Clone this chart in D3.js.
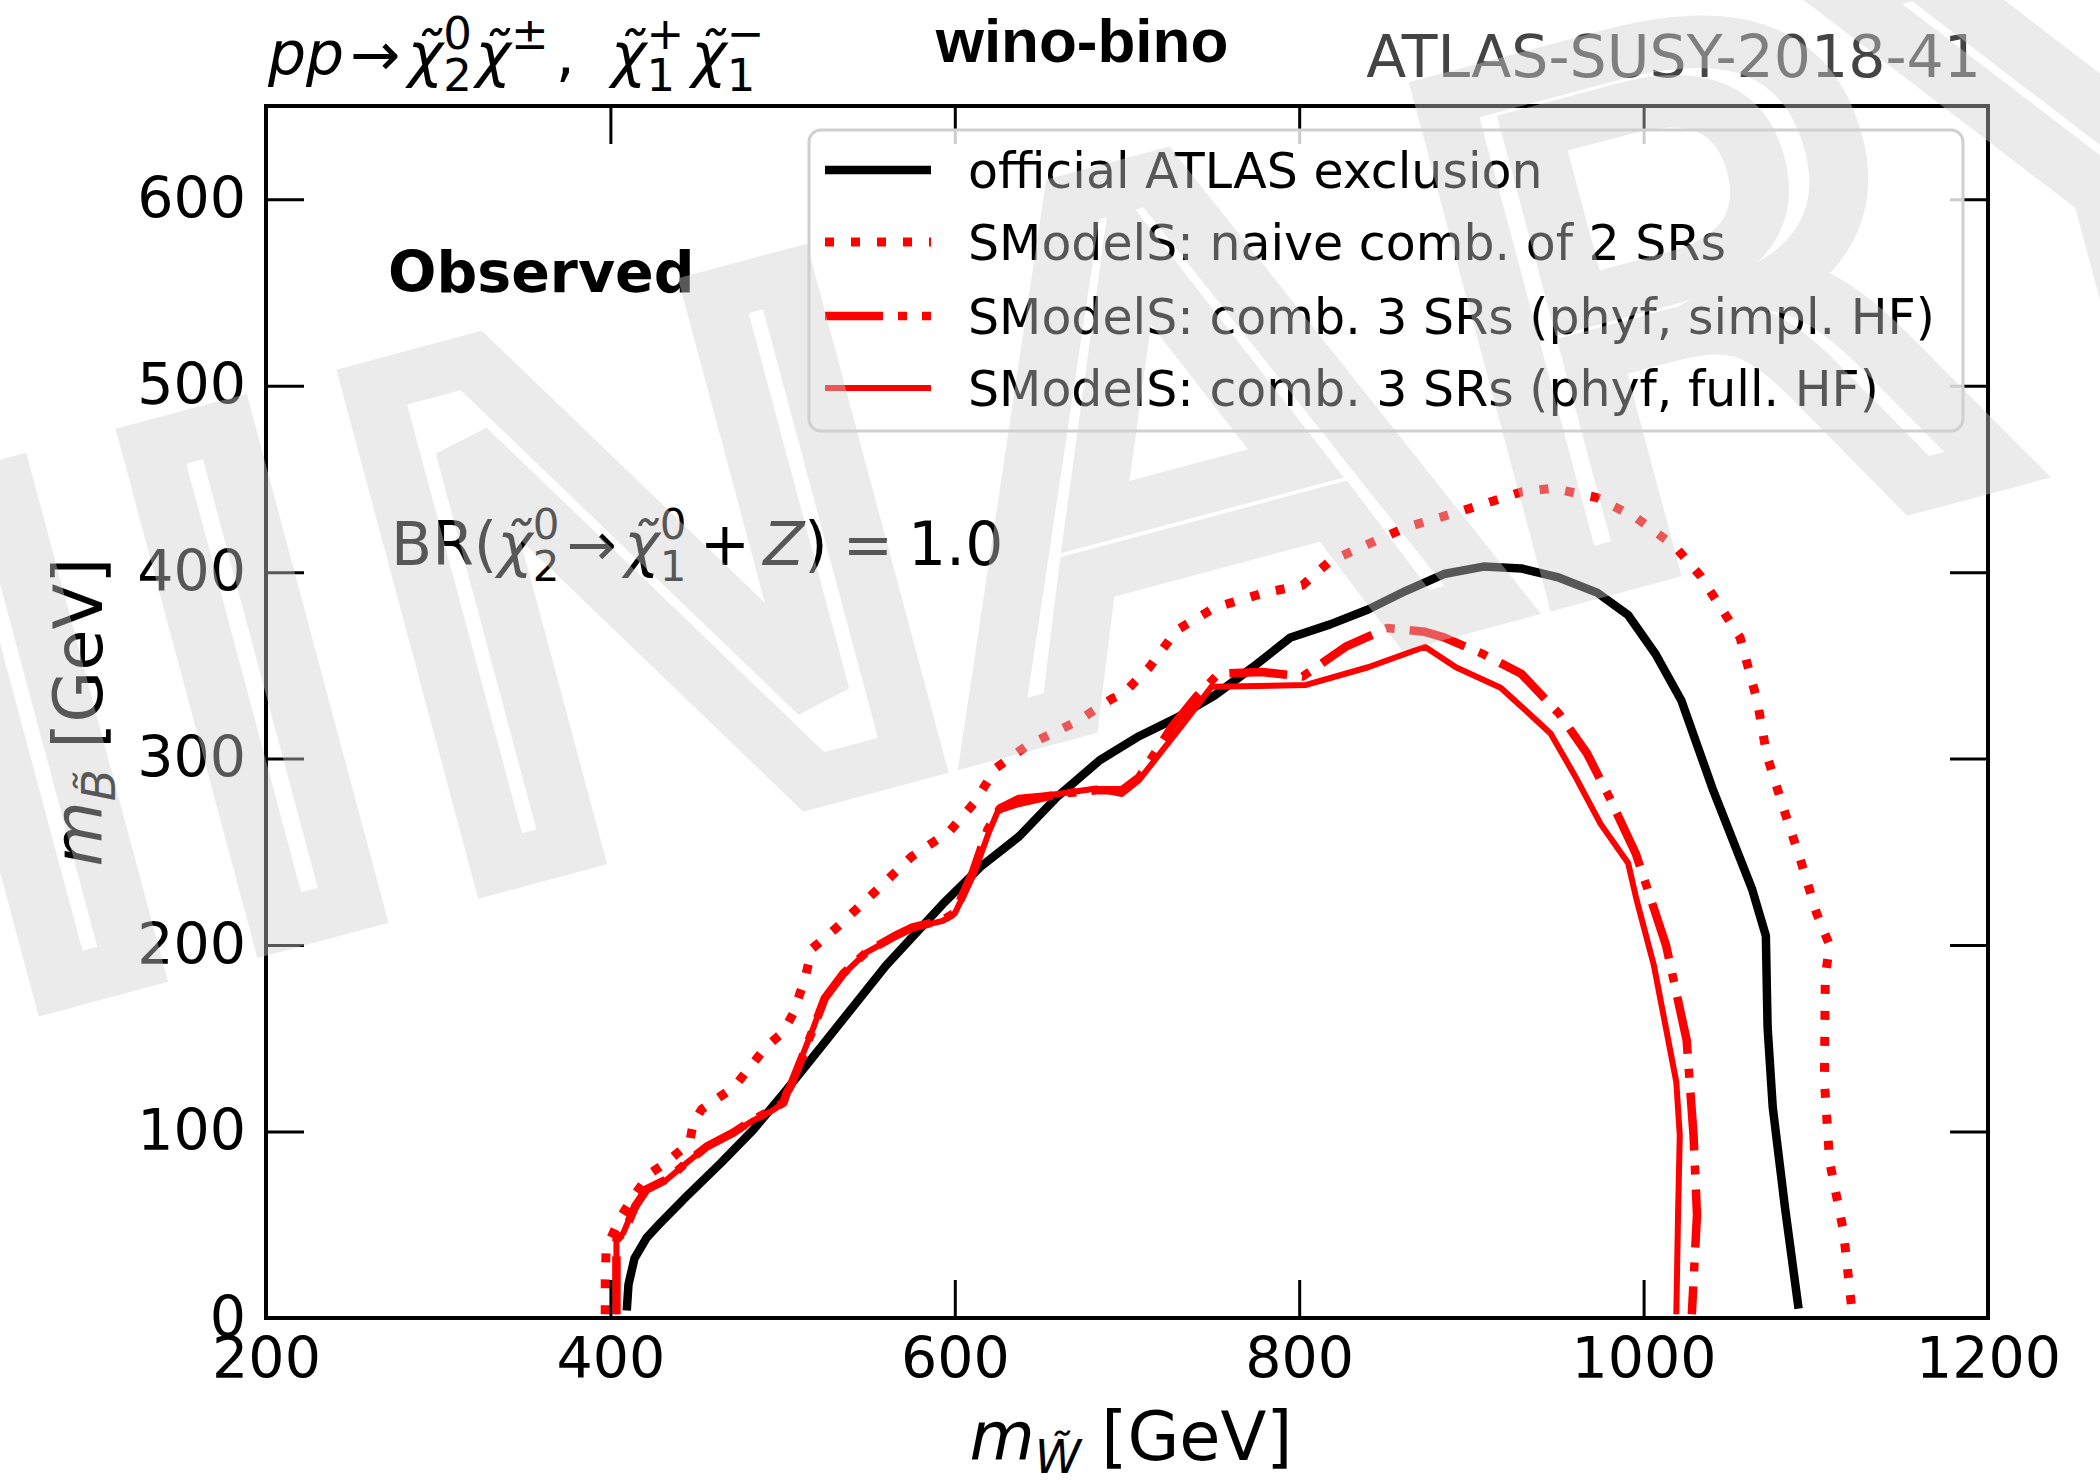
<!DOCTYPE html>
<html>
<head>
<meta charset="utf-8">
<script src="https://cdn.jsdelivr.net/npm/d3@7"></script>
<style>
  body { margin: 0; background: #fff; }
  svg { display: block; font-family: "DejaVu Sans", sans-serif; }
</style>
</head>
<body>
<svg id="chart" width="2100" height="1484"></svg>
<script>
const xTicks = [200, 400, 600, 800, 1000, 1200];
const yTicks = [0, 100, 200, 300, 400, 500, 600];

// exclusion contours, [m_W, m_B] in GeV
const atlasObs = [[409.5,4],[410.5,18],[414,32],[421,43],[429,51],[444,65],[464,83],[483,101],[502,122],[522,145],[541,167],[560,189],[593,222],[615,242],[637,258],[660,280],[684,299],[707,312],[729,322],[751,334],[773,349],[795,365],[818,372],[840,380],[862,390],[884,399],[907,403],[929,402],[951,397],[973,389],[991,377],[1007,356],[1022,331],[1040,284],[1063,230],[1071,205],[1072,156],[1075,113],[1082,60],[1090,5]];
const naive2SR = [[397,2],[397,20],[397.5,37],[405.5,53.5],[414,66],[423,77.5],[432,83],[446,94],[448,104],[453,112],[472,124],[484,138],[491,146],[500,153],[506,163],[513,182],[517,198],[531,209],[553,228],[575,247.5],[597,261],[611,276],[624,295],[642,307],[671,320],[691,332],[698,335],[713,349],[729,369],[751,381],[780,389],[802,393],[818,406],[840,415],[862,424],[895,433],[929,443],[947,445],[973,440],[996,429],[1018,414],[1033,398],[1056,365],[1066,331],[1071.5,302],[1081,274],[1091,246],[1100.5,217],[1108,200],[1105.5,183],[1105,127],[1108,84],[1116,47],[1121,4]];
const comb3Simpl = [[403.5,2],[403.5,42],[408,46],[414.5,60],[421,69],[433,74.5],[444.5,83.5],[456,92],[471.5,99.5],[483,106.5],[494.5,112],[500.5,115.5],[502.5,121],[504.5,124],[512.5,142.5],[518.5,157],[524.5,171.5],[535.5,185],[549,196.5],[566.5,205.5],[575.5,209.5],[593,213.5],[600,217.5],[610.5,239],[619,262],[626,273],[636,276],[660,281],[682,283],[697,283],[707,290],[726,317],[740,333],[753,345.5],[778,346.5],[802,344],[827,360],[851,370],[873,368],[884,365],[907,356],[929,345.5],[951,324],[967,303],[980,279.5],[995.5,249],[1013,200],[1025,149],[1029,98],[1031,55.5],[1028,2]];
const comb3Full = [[403.5,2],[403.5,42],[407.5,45.5],[414,60],[421,68.5],[432.5,74],[444,83],[456,92],[471,99],[483,106],[494.5,111.5],[500,115],[502.5,120.5],[504,123],[512,142],[518,156],[524,171],[535,184],[548.5,196],[566,205],[575,209],[593,213],[600,217],[611,238],[620,261],[626,274],[637,279],[660,281],[682,284],[697,281],[707,288.5],[733,319],[749,338.5],[804,339.5],[840,349],[873,360],[891,349],[917,338],[929,328],[946,313.5],[960,291],[975,265],[991,244],[996,224],[1006,189],[1019,126.5],[1021,98],[1020,55.5],[1019,2]];

const legendLabels = [
  "official ATLAS exclusion",
  "SModelS: naive comb. of 2 SRs",
  "SModelS: comb. 3 SRs (phyf, simpl. HF)",
  "SModelS: comb. 3 SRs (phyf, full. HF)"
];

const svg = d3.select("#chart");
const margin = { left: 266, right: 112, top: 106, bottom: 166 };
const width = 2100 - margin.left - margin.right;
const height = 1484 - margin.top - margin.bottom;

const x = d3.scaleLinear().domain([200, 1200]).range([0, width]);
const y = d3.scaleLinear().domain([0, 650]).range([height, 0]);

const plot = svg.append("g").attr("transform", `translate(${margin.left},${margin.top})`);

plot.append("clipPath").attr("id", "clip")
  .append("rect").attr("width", width).attr("height", height);

// curves
const series = [
  { data: atlasObs, color: "#000", w: 8.5, dash: null },
  { data: naive2SR, color: "#ff0000", w: 9, dash: "9,17" },
  { data: comb3Simpl, color: "#ff0000", w: 8.5, dash: "58,15,9,15" },
  { data: comb3Full, color: "#ff0000", w: 6, dash: null }
];
const line = d3.line().x(d => x(d[0])).y(d => y(d[1]));
const curves = plot.append("g").attr("clip-path", "url(#clip)");
series.forEach(s => {
  curves.append("path")
    .datum(s.data)
    .attr("d", line)
    .attr("fill", "none")
    .attr("stroke", s.color)
    .attr("stroke-width", s.w)
    .attr("stroke-linejoin", "round")
    .attr("stroke-dasharray", s.dash);
});

// axes, ticks pointing inwards on all four sides
function styleAxis(g) {
  g.select(".domain").remove();
  g.selectAll(".tick line").attr("stroke", "#000").attr("stroke-width", 3);
  g.attr("font-size", 57).attr("font-family", "DejaVu Sans").selectAll("text").attr("fill", "#000");
}
plot.append("g").attr("transform", `translate(0,${height})`)
  .call(d3.axisBottom(x).tickValues(xTicks).tickSize(-38).tickPadding(20).tickFormat(d3.format("d")))
  .call(styleAxis);
plot.append("g")
  .call(d3.axisTop(x).tickValues(xTicks).tickSize(-38).tickFormat(""))
  .call(styleAxis);
plot.append("g")
  .call(d3.axisLeft(y).tickValues(yTicks).tickSize(-38).tickPadding(20).tickFormat(d3.format("d")))
  .call(styleAxis);
plot.append("g").attr("transform", `translate(${width},0)`)
  .call(d3.axisRight(y).tickValues(yTicks).tickSize(-38).tickFormat(""))
  .call(styleAxis);

plot.append("rect")
  .attr("width", width).attr("height", height)
  .attr("fill", "none").attr("stroke", "#000").attr("stroke-width", 4);

// small mathtext-like helper: base text with stacked super/subscripts
function mathText(parent, parts, size, subDy = 0.26, scr = 0.7) {
  const g = parent.append("g");
  let cx = 0;
  parts.forEach(p => {
    cx += (p.pl || 0) * size;
    const base = g.append("text").attr("x", cx).attr("y", 0)
      .attr("font-size", size).attr("font-style", p.it ? "italic" : null).text(p.s);
    cx += base.node().getComputedTextLength();
    let w = 0;
    if (p.sup) {
      const t = g.append("text").attr("x", cx).attr("y", -0.44 * size)
        .attr("font-size", size * scr).attr("font-style", p.supIt ? "italic" : null).text(p.sup);
      w = Math.max(w, t.node().getComputedTextLength());
    }
    if (p.sub) {
      const t = g.append("text").attr("x", cx).attr("y", subDy * size)
        .attr("font-size", size * scr).attr("font-style", p.subIt ? "italic" : null).text(p.sub);
      w = Math.max(w, t.node().getComputedTextLength());
    }
    cx += w + (p.pr || 0) * size;
  });
  return { g, width: cx };
}

const chi = "\u03c7\u0303";

// header
const title = mathText(svg, [
  { s: "pp", it: true },
  { s: "\u2192", pl: 0.1, pr: 0.12 },
  { s: chi, it: true, sup: "0", sub: "2", pr: 0.06 },
  { s: chi, it: true, sup: "\u00b1", pr: 0.12 },
  { s: ",", pr: 0.6 },
  { s: chi, it: true, sup: "+", sub: "1", pr: 0.12 },
  { s: chi, it: true, sup: "\u2212", sub: "1" }
], 60, 0.26, 0.75);
title.g.attr("transform", "translate(268,75)");

svg.append("text")
  .attr("x", 1082).attr("y", 62)
  .attr("text-anchor", "middle")
  .attr("font-family", "Liberation Sans, Arial, sans-serif")
  .attr("font-weight", "bold")
  .attr("font-size", 62)
  .text("wino-bino");

svg.append("text")
  .attr("x", 1981).attr("y", 77)
  .attr("text-anchor", "end")
  .attr("font-size", 58.5)
  .attr("fill", "#444")
  .text("ATLAS-SUSY-2018-41");

// annotations inside the frame
svg.append("text")
  .attr("x", 388).attr("y", 292)
  .attr("font-weight", "bold")
  .attr("font-size", 57)
  .text("Observed");

const br = mathText(svg, [
  { s: "BR(" },
  { s: chi, it: true, sup: "0", sub: "2" },
  { s: "\u2192", pl: 0.12, pr: 0.12 },
  { s: chi, it: true, sup: "0", sub: "1" },
  { s: "+", pl: 0.22, pr: 0.22 },
  { s: "Z", it: true },
  { s: ")" },
  { s: "=", pl: 0.25, pr: 0.25 },
  { s: "1.0" }
], 60);
br.g.attr("transform", "translate(391,565)");

// axis titles
const xl = mathText(svg, [
  { s: "m", it: true, sub: "W\u0303", subIt: true, pr: 0.3 },
  { s: "[GeV]" }
], 67, 0.2);
xl.g.attr("transform", `translate(${margin.left + width / 2 - xl.width / 2 + 4},1460)`);

const yl = mathText(svg, [
  { s: "m", it: true, sub: "B\u0303", subIt: true, pr: 0.3 },
  { s: "[GeV]" }
], 67, 0.2);
yl.g.attr("transform", `translate(102,712) rotate(-90) translate(${-yl.width / 2},0)`);

// legend
const legend = svg.append("g");
legend.append("rect")
  .attr("x", 809).attr("y", 130).attr("width", 1154).attr("height", 301)
  .attr("rx", 12)
  .attr("fill", "#fff").attr("fill-opacity", 0.8)
  .attr("stroke", "#d0d0d0").attr("stroke-width", 3);
const rowY = [170, 242, 316, 388];
series.forEach((s, i) => {
  legend.append("line")
    .attr("x1", 825).attr("x2", 931)
    .attr("y1", rowY[i]).attr("y2", rowY[i])
    .attr("stroke", s.color).attr("stroke-width", s.w)
    .attr("stroke-dasharray", s.dash);
  legend.append("text")
    .attr("x", 968).attr("y", rowY[i] + 18)
    .attr("font-size", 49)
    .text(legendLabels[i]);
});

// PRELIMINARY watermark on top of everything
const wm = svg.append("g")
  .attr("transform", "translate(500,866) rotate(-15) scale(1.14,1)")
  .attr("opacity", 0.42)
  .style("pointer-events", "none");
const wmText = wm.append("text")
  .attr("font-size", 680)
  .attr("fill", "none")
  .attr("stroke", "#d0d0d0")
  .attr("stroke-width", 52)
  .text("PRELIMINARY");
const toN = wmText.node().getSubStringLength(0, 7);
wmText.attr("x", -toN - 0.098 * 680);
</script>
</body>
</html>
